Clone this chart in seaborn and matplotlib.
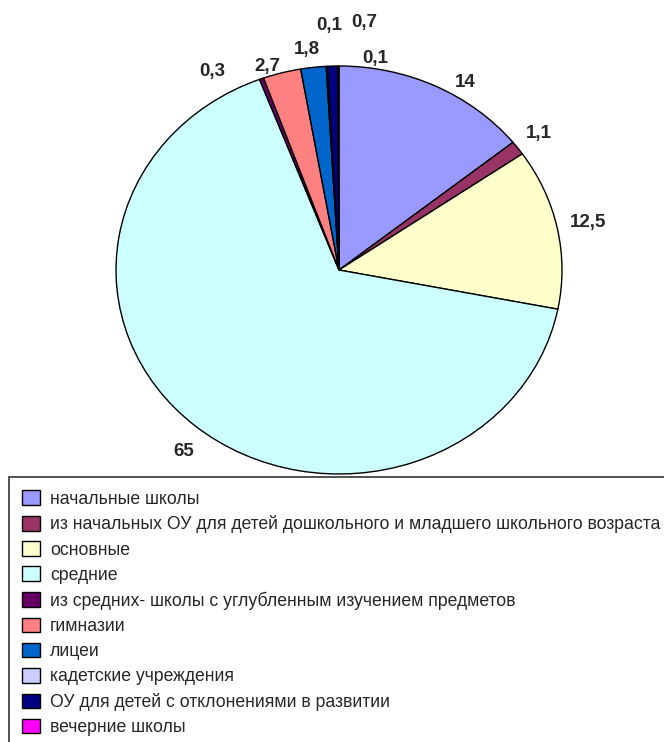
import matplotlib
matplotlib.use("Agg")
import matplotlib.pyplot as plt
import numpy as np
import seaborn as sns

categories = [
    "начальные школы",
    "из начальных ОУ для детей дошкольного и младшего школьного возраста",
    "основные",
    "средние",
    "из средних- школы с углубленным изучением предметов",
    "гимназии",
    "лицеи",
    "кадетские учреждения",
    "ОУ для детей с отклонениями в развитии",
    "вечерние школы",
]
values = [14, 1.1, 12.5, 65, 0.3, 2.7, 1.8, 0.1, 0.7, 0.1]
value_labels = ["14", "1,1", "12,5", "65", "0,3", "2,7", "1,8", "0,1", "0,7", "0,1"]
colors = ["#9999FF", "#993366", "#FFFFCC", "#CCFFFF", "#660066",
          "#FF8080", "#0066CC", "#CCCCFF", "#000080", "#FF00FF"]

# label placement tweaks (radius, angle shift in degrees)
label_radius = [1.08, 1.12, 1.14, 1.13, 1.13, 1.05, 1.09, 1.20, 1.22, 1.05]
label_shift = [-6, 0, 0, 2, 10, 3, 1, -1, -7, -9]

sns.set_theme(style="white")
plt.rcParams["font.family"] = ["Liberation Sans", "DejaVu Sans"]

fig = plt.figure(figsize=(6.64, 7.42), dpi=100)
ax = fig.add_axes([116 / 664, 268 / 742, 446 / 664, 408 / 742])

palette = sns.color_palette(colors)
wedges, _ = ax.pie(
    values,
    colors=palette,
    startangle=90,
    counterclock=False,
    wedgeprops={"edgecolor": "black", "linewidth": 1.0},
)
ax.set_aspect("auto")
ax.set_xlim(-1, 1)
ax.set_ylim(-1, 1)
ax.axis("off")

for w, lab, r, d in zip(wedges, value_labels, label_radius, label_shift):
    ang = np.deg2rad((w.theta1 + w.theta2) / 2 + d)
    ax.text(r * np.cos(ang), r * np.sin(ang), lab, ha="center", va="center",
            fontsize=13.5, fontweight="bold", clip_on=False)

leg = fig.legend(
    wedges,
    categories,
    loc="upper left",
    bbox_to_anchor=(9 / 664, 0, 1.0, 1 - 477 / 742),
    mode="expand",
    fontsize=12.7,
    frameon=True,
    fancybox=False,
    edgecolor="black",
    handlelength=1.0,
    handleheight=0.9,
    handletextpad=0.57,
    labelspacing=0.44,
    borderpad=0.75,
    borderaxespad=0,
)
leg.get_frame().set_linewidth(1.2)

fig.savefig("out.png", dpi=100)
